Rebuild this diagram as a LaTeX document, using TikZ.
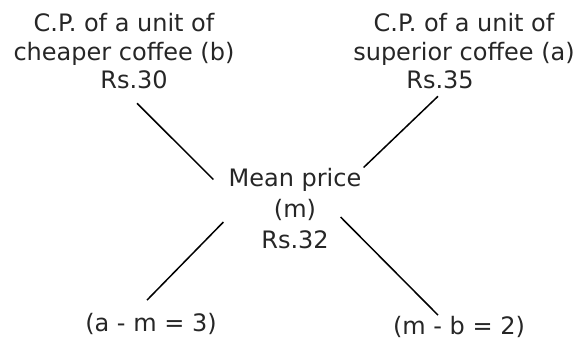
\documentclass[tikz,border=0pt]{standalone}
\usepackage{fontspec}
\setmainfont{DejaVu Sans}
\usetikzlibrary{positioning}

\tikzset{
  lbl/.style={inner sep=0pt, align=center, text=black!85, font=\fontsize{24}{29}\selectfont},
  link/.style={line width=1.5pt, black}
}

\begin{document}
\begin{tikzpicture}[x=1pt, y=-1pt]
  \useasboundingbox (0,0) rectangle (576,340);

  % Cost prices of the two kinds
  \node[lbl] (cheap) at (124,39) {C.P. of a unit of\\cheaper coffee (b)};
  \node[lbl] (cheaprs) at (134,80) {Rs.30};
  \node[lbl] (sup) at (464,39) {C.P. of a unit of\\superior coffee (a)};
  \node[lbl] (suprs) at (440,80) {Rs.35};

  % Mean price in the middle
  \node[lbl, font=\fontsize{24}{31}\selectfont] (mean) at (295,209) {Mean price\\(m)\\Rs.32};

  % Differences
  \node[lbl] (diffa) at (151,324) {(a - m = 3)};
  \node[lbl] (diffb) at (459,327) {(m - b = 2)};

  % Cross lines
  \draw[link] ([shift={(3,14)}]cheaprs.south) -- ([shift={(-15,11)}]mean.north west);
  \draw[link] ([shift={(-2,7)}]suprs.south) -- ([shift={(2,-1)}]mean.north east);
  \draw[link] ([shift={(-5,13)}]mean.west) -- ([shift={(-4,-13)}]diffa.north);
  \draw[link] ([shift={(-21,8)}]mean.east) -- ([shift={(-21,-1)}]diffb.north);
\end{tikzpicture}
\end{document}
